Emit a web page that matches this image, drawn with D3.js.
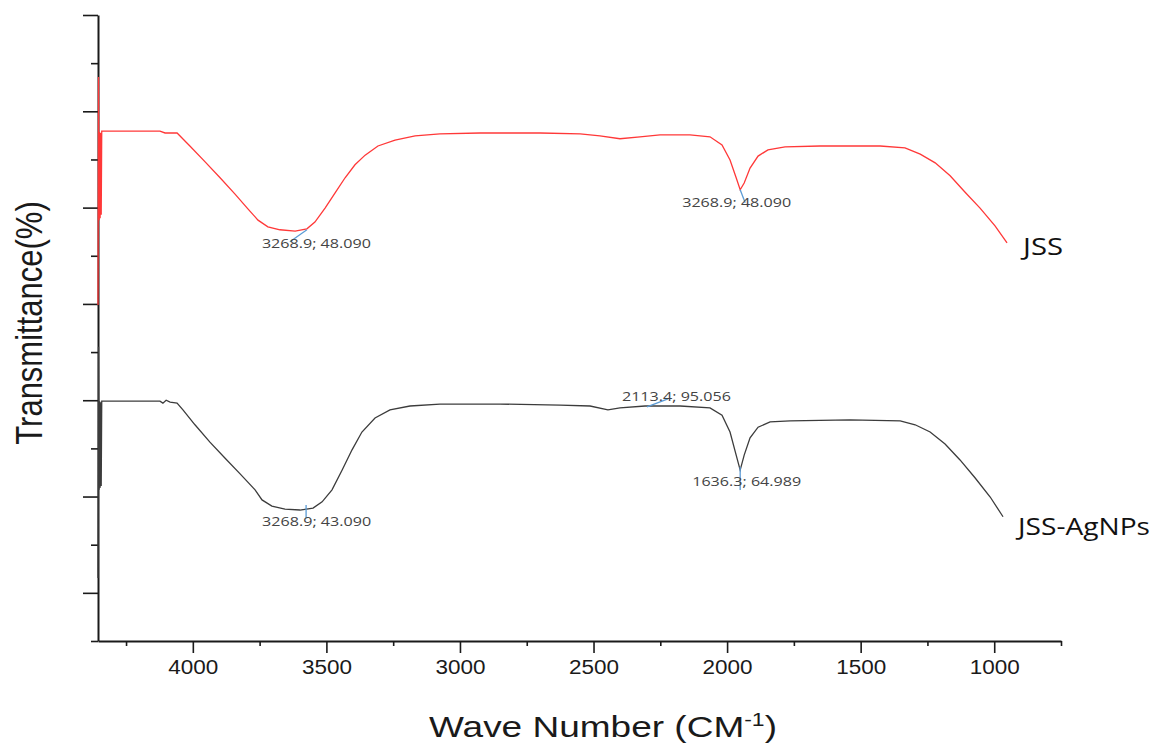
<!DOCTYPE html>
<meta charset="utf-8">
<title>FTIR spectra JSS / JSS-AgNPs</title>
<style>
body { margin: 0; background: #fff; }
.axis .domain { stroke: #1a1a1a; stroke-width: 2; }
.axis line { stroke: #1a1a1a; stroke-width: 1.6; }
</style>
<svg width="1156" height="746"></svg>
<script src="https://d3js.org/d3.v7.min.js"></script>
<script>
// wave number (cm-1) and transmittance (stacked, offset)
var jssWave = [4355, 4353, 4351, 4349, 4347, 4345, 4343, 4341, 4123, 4104, 4059, 4011, 3954, 3898, 3842, 3793, 3756, 3719, 3674, 3617, 3573, 3543, 3505, 3468, 3430, 3393, 3355, 3307, 3243, 3168, 3075, 2925, 2700, 2550, 2476, 2401, 2326, 2251, 2139, 2064, 2019, 1989, 1966, 1951, 1936, 1914, 1884, 1847, 1783, 1652, 1427, 1334, 1277, 1221, 1165, 1109, 1053, 997, 952];
var jssT    = [69.8, 117.1, 87.4, 105.7, 87.8, 105.5, 88.5, 105.9, 105.9, 105.5, 105.5, 102.8, 99.5, 96.2, 92.8, 89.7, 87.4, 86.0, 85.4, 85.1, 85.6, 87.0, 89.9, 93.0, 96.2, 98.9, 100.9, 102.8, 104.0, 104.9, 105.3, 105.5, 105.5, 105.3, 104.9, 104.3, 104.7, 105.1, 105.1, 104.7, 103.0, 99.9, 96.2, 93.7, 95.1, 98.2, 100.7, 102.0, 102.6, 102.8, 102.8, 102.4, 101.1, 99.3, 96.6, 93.2, 89.9, 86.2, 82.7];

var agWave = [4355, 4353, 4351, 4349, 4347, 4345, 4343, 4341, 4123, 4112, 4100, 4085, 4059, 4037, 3992, 3936, 3880, 3823, 3767, 3741, 3704, 3655, 3599, 3550, 3516, 3479, 3441, 3404, 3367, 3318, 3262, 3187, 3075, 2850, 2625, 2513, 2446, 2401, 2307, 2176, 2064, 2019, 1989, 1966, 1951, 1936, 1914, 1884, 1839, 1764, 1540, 1352, 1296, 1240, 1184, 1128, 1072, 1015, 967];
var agT    = [13.1, 61.1, 31.4, 49.8, 31.8, 49.6, 32.2, 49.8, 49.8, 49.4, 50.0, 49.6, 49.4, 48.0, 44.9, 41.3, 38.0, 34.7, 31.4, 29.3, 28.0, 27.4, 27.2, 27.6, 28.9, 31.4, 35.5, 39.7, 43.4, 46.3, 48.0, 48.8, 49.2, 49.2, 49.0, 48.8, 48.0, 48.4, 48.8, 48.8, 48.4, 46.9, 43.4, 38.6, 35.5, 38.6, 42.2, 44.4, 45.5, 45.7, 45.9, 45.7, 44.9, 43.4, 40.9, 37.6, 33.9, 29.9, 25.8];

var seriesNames = ["JSS", "JSS-AgNPs"];
var xTicks = [4000, 3500, 3000, 2500, 2000, 1500, 1000];

var peakLabels = ["3268.9; 48.090", "3268.9; 48.090", "2113.4; 95.056", "3268.9; 43.090", "1636.3; 64.989"];
var peakWave   = [3573, 1951, 2300, 3576, 1951];
var peakT      = [85.4, 93.7, 48.6, 27.6, 35.5];

var svg = d3.select("svg");

var x = d3.scaleLinear().domain([4355, 750]).range([98, 1061]);
var y = d3.scaleLinear().domain([0, 130]).range([641, 15]);

// x axis: minor then major ticks
svg.append("g")
  .attr("class", "axis")
  .attr("transform", "translate(0,641)")
  .call(d3.axisBottom(x).tickValues(d3.range(4250, 700, -500)).tickSize(5).tickSizeOuter(0).tickFormat(""));

var xa = svg.append("g")
  .attr("class", "axis")
  .attr("transform", "translate(0,641)")
  .call(d3.axisBottom(x).tickValues(xTicks).tickSize(12).tickSizeOuter(0).tickPadding(7).tickFormat(d3.format("d")));
xa.select(".domain").remove();
xa.selectAll("text")
  .attr("font-family", "'Liberation Sans', Arial, sans-serif")
  .attr("font-size", 20)
  .attr("fill", "#1a1a1a")
  .attr("textLength", 50)
  .attr("lengthAdjust", "spacingAndGlyphs");

// y axis: no labels
svg.append("g")
  .attr("class", "axis")
  .attr("transform", "translate(98,0)")
  .call(d3.axisLeft(y).tickValues(d3.range(0, 130, 20)).tickSize(7).tickSizeOuter(0).tickFormat(""));
var ya = svg.append("g")
  .attr("class", "axis")
  .attr("transform", "translate(98,0)")
  .call(d3.axisLeft(y).tickValues(d3.range(10, 140, 20)).tickSize(15).tickSizeOuter(0).tickFormat(""));
ya.select(".domain").remove();

// spectra
var line = d3.line().x(function(d) { return x(d[0]); }).y(function(d) { return y(d[1]); });
var series = [d3.zip(jssWave, jssT), d3.zip(agWave, agT)];
var colors = ["#ff3838", "#3c3c3c"];

svg.selectAll("path.spec")
  .data(series)
  .enter().append("path")
  .attr("class", "spec")
  .attr("fill", "none")
  .attr("stroke", function(d, i) { return colors[i]; })
  .attr("stroke-width", 1.3)
  .attr("d", line);

// series labels next to the last point
var labelOff = [[16, 12], [15, 18]];
svg.selectAll("text.series")
  .data(seriesNames)
  .enter().append("text")
  .attr("class", "series")
  .attr("x", function(d, i) { var p = series[i][series[i].length - 1]; return x(p[0]) + labelOff[i][0]; })
  .attr("y", function(d, i) { var p = series[i][series[i].length - 1]; return y(p[1]) + labelOff[i][1]; })
  .attr("font-family", "'Open Sans', sans-serif")
  .attr("font-size", 23)
  .attr("fill", "#111")
  .attr("textLength", function(d, i) { return i === 0 ? 40 : 132; })
  .attr("lengthAdjust", "spacingAndGlyphs")
  .text(function(d) { return d; });

// peak annotations: blue leader + label
var lead = [[-17, 12], [5, 13], [21, -8], [0, 10], [0, 20]];
var leadStart = [[0, 0], [0, 0], [0, 0], [0, -3], [0, -3]];
var txtOff = [[-45, 18], [-58, 17], [-25, -6], [-44, 18], [-48, 16]];

var peaks = svg.append("g").selectAll("g")
  .data(peakLabels)
  .enter().append("g")
  .attr("transform", function(d, i) { return "translate(" + x(peakWave[i]) + "," + y(peakT[i]) + ")"; });

peaks.append("line")
  .attr("x1", function(d, i) { return leadStart[i][0]; })
  .attr("y1", function(d, i) { return leadStart[i][1]; })
  .attr("x2", function(d, i) { return lead[i][0]; })
  .attr("y2", function(d, i) { return lead[i][1]; })
  .attr("stroke", "#5b9bd5")
  .attr("stroke-width", 1.3);

peaks.append("text")
  .attr("x", function(d, i) { return txtOff[i][0]; })
  .attr("y", function(d, i) { return txtOff[i][1]; })
  .attr("font-family", "'Open Sans', sans-serif")
  .attr("font-size", 13)
  .attr("fill", "#444")
  .attr("textLength", 109)
  .attr("lengthAdjust", "spacingAndGlyphs")
  .text(function(d) { return d; });

// axis titles
var xt = svg.append("text")
  .attr("x", 603)
  .attr("y", 737)
  .attr("text-anchor", "middle")
  .attr("font-family", "'Liberation Sans', Arial, sans-serif")
  .attr("font-size", 29)
  .attr("fill", "#1a1a1a")
  .attr("textLength", 348)
  .attr("lengthAdjust", "spacingAndGlyphs");
xt.append("tspan").text("Wave Number (CM");
xt.append("tspan").attr("dy", -11).attr("font-size", 18).text("-1");
xt.append("tspan").attr("dy", 11).text(")");

svg.append("text")
  .attr("transform", "translate(42,323) scale(1.2,1) rotate(-90)")
  .attr("text-anchor", "middle")
  .attr("font-family", "'Liberation Sans', Arial, sans-serif")
  .attr("font-size", 31)
  .attr("fill", "#1a1a1a")
  .text("Transmittance(%)");
</script>
